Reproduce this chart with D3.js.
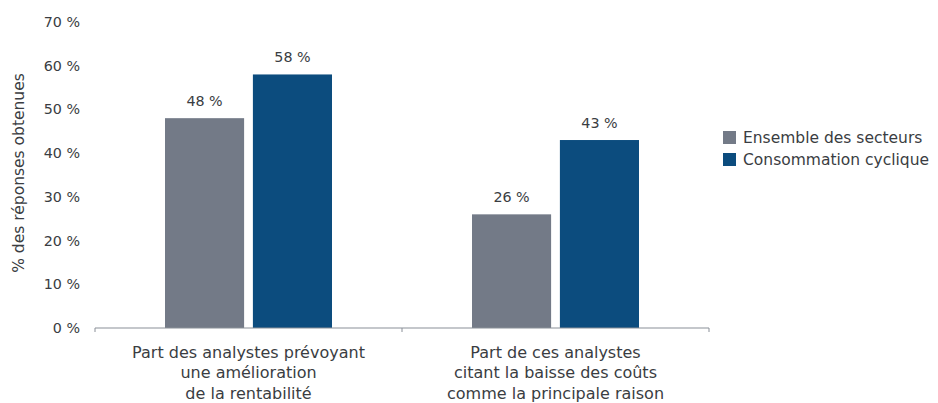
<!DOCTYPE html>
<html>
<head>
<meta charset="utf-8">
<script src="https://cdn.jsdelivr.net/npm/d3@7"></script>
<style>
  body { margin: 0; background: #fff; }
  svg text { font-family: "DejaVu Sans", "Noto Sans", sans-serif; fill: #3a3d42; }
</style>
</head>
<body>
<svg id="chart" width="938" height="403"></svg>
<script>
// Categories (multi-line labels) and series values in percent
const categories = [
  ["Part des analystes prévoyant", "une amélioration", "de la rentabilité"],
  ["Part de ces analystes", "citant la baisse des coûts", "comme la principale raison"]
];
const seriesNames = ["Ensemble des secteurs", "Consommation cyclique"];
const ensembleValues = [48, 26];
const cycliqueValues = [58, 43];
const yTicks = [0, 10, 20, 30, 40, 50, 60, 70];
const colors = ["#737a87", "#0c4c7e"];

const svg = d3.select("#chart");
const margin = { left: 95, right: 229, top: 22, bottom: 75 };
const W = 938, H = 403;
const plotW = W - margin.left - margin.right;
const plotH = H - margin.top - margin.bottom;

const g = svg.append("g").attr("transform", `translate(${margin.left},${margin.top})`);

const x0 = d3.scaleBand().domain(d3.range(categories.length)).range([0, plotW]);
const x1 = d3.scaleBand().domain(d3.range(seriesNames.length)).range([70, x0.bandwidth() - 70]).paddingInner(0.1);
const y = d3.scaleLinear().domain([0, 70]).range([plotH, 0]);

// y tick labels (no axis line)
g.append("g").selectAll("text").data(yTicks).join("text")
  .attr("x", -15).attr("y", d => y(d)).attr("dy", "0.35em")
  .attr("text-anchor", "end").attr("font-size", 14.3)
  .text(d => `${d} %`);

// grouped bars with value labels
const values = [ensembleValues, cycliqueValues];
const groups = g.selectAll(".grp").data(categories).join("g")
  .attr("transform", (d, i) => `translate(${x0(i)},0)`);
groups.each(function (c, ci) {
  const grp = d3.select(this);
  seriesNames.forEach((s, si) => {
    const v = values[si][ci];
    grp.append("rect")
      .attr("x", x1(si)).attr("width", x1.bandwidth())
      .attr("y", y(v)).attr("height", y(0) - y(v))
      .attr("fill", colors[si]);
    grp.append("text")
      .attr("x", x1(si) + x1.bandwidth() / 2).attr("y", y(v) - 12)
      .attr("text-anchor", "middle").attr("font-size", 14.3)
      .text(`${v} %`);
  });
});

// x axis: baseline, category separators and wrapped labels
const xAxis = g.append("g").attr("transform", `translate(0,${plotH})`);
xAxis.append("line").attr("x1", 0).attr("x2", plotW).attr("stroke", "#8a8f98").attr("stroke-width", 1.2);
xAxis.selectAll(".tk").data(d3.range(categories.length + 1)).join("line")
  .attr("x1", d => d * x0.bandwidth()).attr("x2", d => d * x0.bandwidth())
  .attr("y1", 0).attr("y2", 4).attr("stroke", "#8a8f98");
xAxis.selectAll(".lbl").data(categories).join("text")
  .attr("text-anchor", "middle").attr("font-size", 16)
  .attr("transform", (d, i) => `translate(${x0(i) + x0.bandwidth() / 2},0)`)
  .each(function (lines) {
    d3.select(this).selectAll("tspan").data(lines).join("tspan")
      .attr("x", 0).attr("y", (d, i) => 29.5 + i * 20.5).text(d => d);
  });

// y axis title
svg.append("text")
  .attr("transform", `translate(24,${margin.top + plotH / 2 - 2}) rotate(-90)`)
  .attr("text-anchor", "middle").attr("font-size", 15.5)
  .text("% des réponses obtenues");

// legend
const legend = svg.append("g").attr("transform", "translate(723,131)");
seriesNames.forEach((s, i) => {
  legend.append("rect").attr("x", 0).attr("y", i * 22).attr("width", 13).attr("height", 13).attr("fill", colors[i]);
  legend.append("text").attr("x", 20).attr("y", i * 22 + 6.5).attr("dy", "0.35em")
    .attr("font-size", 15.5).text(s);
});
</script>
</body>
</html>
